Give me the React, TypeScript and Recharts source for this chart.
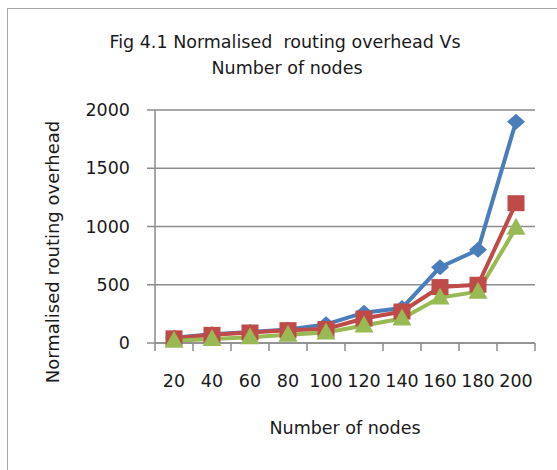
import React from 'react';
import { LineChart, Line, XAxis, YAxis, CartesianGrid } from 'recharts';

const nodes = [20, 40, 60, 80, 100, 120, 140, 160, 180, 200];
const seriesBlue = [45, 75, 95, 115, 160, 260, 300, 650, 800, 1900];
const seriesRed = [40, 70, 90, 110, 120, 210, 270, 480, 500, 1200];
const seriesGreen = [20, 35, 50, 70, 90, 150, 210, 390, 440, 990];
const yTicks = [0, 500, 1000, 1500, 2000];

const data = nodes.map((n, i) => ({
  n: String(n),
  blue: seriesBlue[i],
  red: seriesRed[i],
  green: seriesGreen[i],
}));

const W = 557;
const H = 470;
const LEFT = 155;
const RIGHT = 22;
const TOP = 110;
const BOTTOM = 127;
const XAXIS_H = 60;
const PLOT_W = W - LEFT - RIGHT;
const HALF = PLOT_W / nodes.length / 2;
const FONT = '"DejaVu Sans", sans-serif';
const AXIS = '#8c8c8c';
const TEXT = '#1a1a1a';

const XTick = (props: any) => {
  const { x, y, payload, index } = props;
  const last = index === nodes.length - 1;
  return (
    <g>
      <line x1={x - HALF} y1={y} x2={x - HALF} y2={y + 8} stroke={AXIS} strokeWidth={1.5} />
      {last && <line x1={x + HALF} y1={y} x2={x + HALF} y2={y + 8} stroke={AXIS} strokeWidth={1.5} />}
      <text x={x} y={y + 44} textAnchor="middle" fontFamily={FONT} fontSize={17.5} fill={TEXT}>
        {payload.value}
      </text>
    </g>
  );
};

const Diamond = (props: any) => {
  const { cx, cy, fill } = props;
  if (cx == null || cy == null) return null;
  return <path d={`M${cx},${cy - 8}L${cx + 9},${cy}L${cx},${cy + 8}L${cx - 9},${cy}Z`} fill={fill} />;
};
const Square = (props: any) => {
  const { cx, cy, fill } = props;
  if (cx == null || cy == null) return null;
  return <rect x={cx - 8.5} y={cy - 8} width={17} height={16} fill={fill} />;
};
const Triangle = (props: any) => {
  const { cx, cy, fill } = props;
  if (cx == null || cy == null) return null;
  return <path d={`M${cx},${cy - 10}L${cx + 9.5},${cy + 7}L${cx - 9.5},${cy + 7}Z`} fill={fill} />;
};

export default function App() {
  return (
    <div style={{ position: 'absolute', left: 0, top: 0, width: W, height: H, overflow: 'hidden', background: '#fff' }}>
      <div style={{ position: 'absolute', left: 7, top: 8, width: 560, height: 480, border: '1px solid #a6a6a6' }} />
      <div style={{ position: 'absolute', left: 0, top: 0 }}>
        <LineChart width={W} height={H} data={data} margin={{ top: TOP, right: RIGHT, bottom: BOTTOM - XAXIS_H, left: 0 }}>
          <CartesianGrid vertical={false} stroke={AXIS} strokeWidth={1.5} />
          <XAxis
            dataKey="n"
            type="category"
            height={XAXIS_H}
            padding={{ left: HALF, right: HALF }}
            axisLine={{ stroke: AXIS, strokeWidth: 1.5 }}
            tickLine={false}
            tickSize={0}
            tickMargin={0}
            interval={0}
            tick={<XTick />}
          />
          <YAxis
            width={LEFT}
            domain={[0, 2000]}
            ticks={yTicks}
            interval={0}
            axisLine={{ stroke: AXIS, strokeWidth: 1.5 }}
            tickLine={{ stroke: AXIS, strokeWidth: 1.5 }}
            tickSize={8}
            tickMargin={17}
            tick={{ fontFamily: FONT, fontSize: 17.5, fill: TEXT }}
            label={{
              content: () => (
                <text
                  x={59}
                  y={252}
                  transform="rotate(-90 59 252)"
                  textAnchor="middle"
                  fontFamily={FONT}
                  fontSize={18}
                  fill={TEXT}
                >
                  Normalised routing overhead
                </text>
              ),
            }}
          />
          <Line dataKey="blue" stroke="#4A7EBB" strokeWidth={4} fill="#4A7EBB" dot={<Diamond fill="#4A7EBB" />} isAnimationActive={false} />
          <Line dataKey="red" stroke="#BE4B48" strokeWidth={4} fill="#BE4B48" dot={<Square fill="#BE4B48" />} isAnimationActive={false} />
          <Line dataKey="green" stroke="#98B954" strokeWidth={4} fill="#98B954" dot={<Triangle fill="#98B954" />} isAnimationActive={false} />
        </LineChart>
      </div>
      <svg width={W} height={H} style={{ position: 'absolute', left: 0, top: 0, pointerEvents: 'none' }}>
        <text x={285} y={48} textAnchor="middle" fontFamily={FONT} fontSize={17.5} fill={TEXT}>
          {'Fig 4.1 Normalised\u00a0 routing overhead Vs'}
        </text>
        <text x={287} y={74} textAnchor="middle" fontFamily={FONT} fontSize={17.5} fill={TEXT}>
          Number of nodes
        </text>
        <text x={345} y={434} textAnchor="middle" fontFamily={FONT} fontSize={17.5} fill={TEXT}>
          Number of nodes
        </text>
      </svg>
    </div>
  );
}
